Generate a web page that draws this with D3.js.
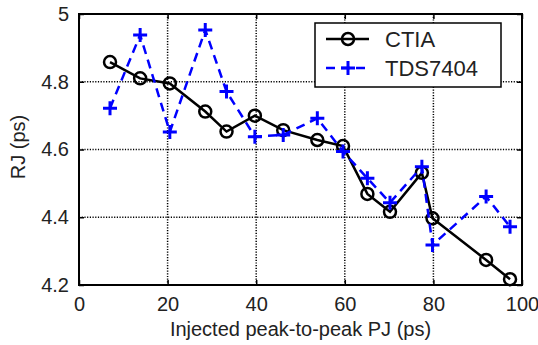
<!DOCTYPE html>
<head>
  <meta charset="utf-8">
  <script src="https://d3js.org/d3.v7.min.js"></script>
  <style>
    body { margin:0; background:#fff; }
    svg { display:block; font-family:"Liberation Sans", Arial, sans-serif; }
    .tick text { font-size:20px; fill:#222; }
  </style>
</head>
<body>
  <svg id="chart"></svg>
  <script>
  // injected PJ values (ps)
  var pj = [7, 13.8, 20.5, 28.5, 33.3, 39.7, 46.1, 53.8, 59.6, 65.1, 70.2, 77.4, 79.8, 91.9, 97.3];
  var ctia = [4.858, 4.810, 4.795, 4.712, 4.653, 4.700, 4.657, 4.628, 4.610, 4.469, 4.416, 4.531, 4.397, 4.274, 4.217];
  var tds = [4.722, 4.938, 4.652, 4.953, 4.771, 4.638, 4.643, 4.692, 4.594, 4.515, 4.443, 4.549, 4.318, 4.461, 4.372];
  var xTicks = [0, 20, 40, 60, 80, 100];
  var yTicks = [4.2, 4.4, 4.6, 4.8, 5];
  var seriesNames = ["CTIA", "TDS7404"];

  var W = 538, H = 345;
  var margin = {top: 14, right: 16, bottom: 60, left: 79};
  var w = W - margin.left - margin.right;
  var h = H - margin.top - margin.bottom;

  var svg = d3.select("#chart").attr("width", W).attr("height", H);
  var g = svg.append("g").attr("transform", "translate(" + margin.left + "," + margin.top + ")");

  var x = d3.scaleLinear().domain([0, 100]).range([0, w]);
  var y = d3.scaleLinear().domain([4.2, 5]).range([h, 0]);

  // dotted grid
  g.selectAll(".vgrid").data(xTicks.slice(1, -1)).enter().append("line")
    .attr("x1", d => x(d)).attr("x2", d => x(d)).attr("y1", 0).attr("y2", h)
    .attr("stroke", "#000").attr("stroke-width", 1.5).attr("stroke-dasharray", "1.2,1.5");
  g.selectAll(".hgrid").data(yTicks.slice(1, -1)).enter().append("line")
    .attr("x1", 0).attr("x2", w).attr("y1", d => y(d)).attr("y2", d => y(d))
    .attr("stroke", "#000").attr("stroke-width", 1.5).attr("stroke-dasharray", "1.2,1.5");

  // axes
  g.append("g").attr("transform", "translate(0," + h + ")")
    .call(d3.axisBottom(x).tickValues(xTicks).tickSize(-5).tickPadding(12).tickFormat(d3.format("d")));
  g.append("g")
    .call(d3.axisLeft(y).tickValues(yTicks).tickSize(-5).tickPadding(10).tickFormat(d => d === 5 ? "5" : d3.format(".1f")(d)));
  g.append("g").call(d3.axisTop(x).tickValues(xTicks).tickSize(-5).tickFormat(""));
  g.append("g").attr("transform", "translate(" + w + ",0)")
    .call(d3.axisRight(y).tickValues(yTicks).tickSize(-5).tickFormat(""));
  g.selectAll(".domain").remove();
  g.selectAll(".tick line").attr("stroke", "#000").attr("stroke-width", 1.5);

  g.append("rect").attr("width", w).attr("height", h)
    .attr("fill", "none").attr("stroke", "#000").attr("stroke-width", 2);

  // axis labels
  svg.append("text").attr("x", margin.left + w / 2).attr("y", 336)
    .attr("text-anchor", "middle").attr("font-size", 20).attr("fill", "#222")
    .text("Injected peak-to-peak PJ (ps)");
  svg.append("text").attr("transform", "translate(25,147) rotate(-90)")
    .attr("text-anchor", "middle").attr("font-size", 20).attr("fill", "#222")
    .text("RJ (ps)");

  var line = d3.line().x(d => x(d[0])).y(d => y(d[1]));
  var ctiaPts = pj.map((p, i) => [p, ctia[i]]);
  var tdsPts = pj.map((p, i) => [p, tds[i]]);

  g.append("path").attr("d", line(ctiaPts)).attr("fill", "none")
    .attr("stroke", "#000").attr("stroke-width", 2.5);
  g.selectAll(".circ").data(ctiaPts).enter().append("circle")
    .attr("cx", d => x(d[0])).attr("cy", d => y(d[1])).attr("r", 6)
    .attr("fill", "none").attr("stroke", "#000").attr("stroke-width", 2.5);

  g.append("path").attr("d", line(tdsPts)).attr("fill", "none")
    .attr("stroke", "#0000ff").attr("stroke-width", 2.5).attr("stroke-dasharray", "9,6");
  function plus(sel, cx, cy) {
    sel.append("path").attr("d", "M" + (cx - 7) + "," + cy + "H" + (cx + 7) + "M" + cx + "," + (cy - 7) + "V" + (cy + 7))
      .attr("stroke", "#0000ff").attr("stroke-width", 3).attr("fill", "none");
  }
  tdsPts.forEach(d => plus(g, x(d[0]), y(d[1])));

  // legend
  var lg = svg.append("g");
  lg.append("rect").attr("x", 315).attr("y", 23).attr("width", 186).attr("height", 64)
    .attr("fill", "#fff").attr("stroke", "#000").attr("stroke-width", 1.5);
  lg.append("line").attr("x1", 326).attr("x2", 369).attr("y1", 39).attr("y2", 39)
    .attr("stroke", "#000").attr("stroke-width", 2.5);
  lg.append("circle").attr("cx", 348).attr("cy", 39).attr("r", 6)
    .attr("fill", "none").attr("stroke", "#000").attr("stroke-width", 2.5);
  lg.append("line").attr("x1", 326).attr("x2", 369).attr("y1", 68).attr("y2", 68)
    .attr("stroke", "#0000ff").attr("stroke-width", 2.5).attr("stroke-dasharray", "9,6");
  plus(lg, 348, 68);
  lg.selectAll(".lt").data(seriesNames).enter().append("text")
    .attr("x", 385).attr("y", (d, i) => 47 + i * 29)
    .attr("font-size", 22).attr("fill", "#222").text(d => d);
  </script>
</body>
